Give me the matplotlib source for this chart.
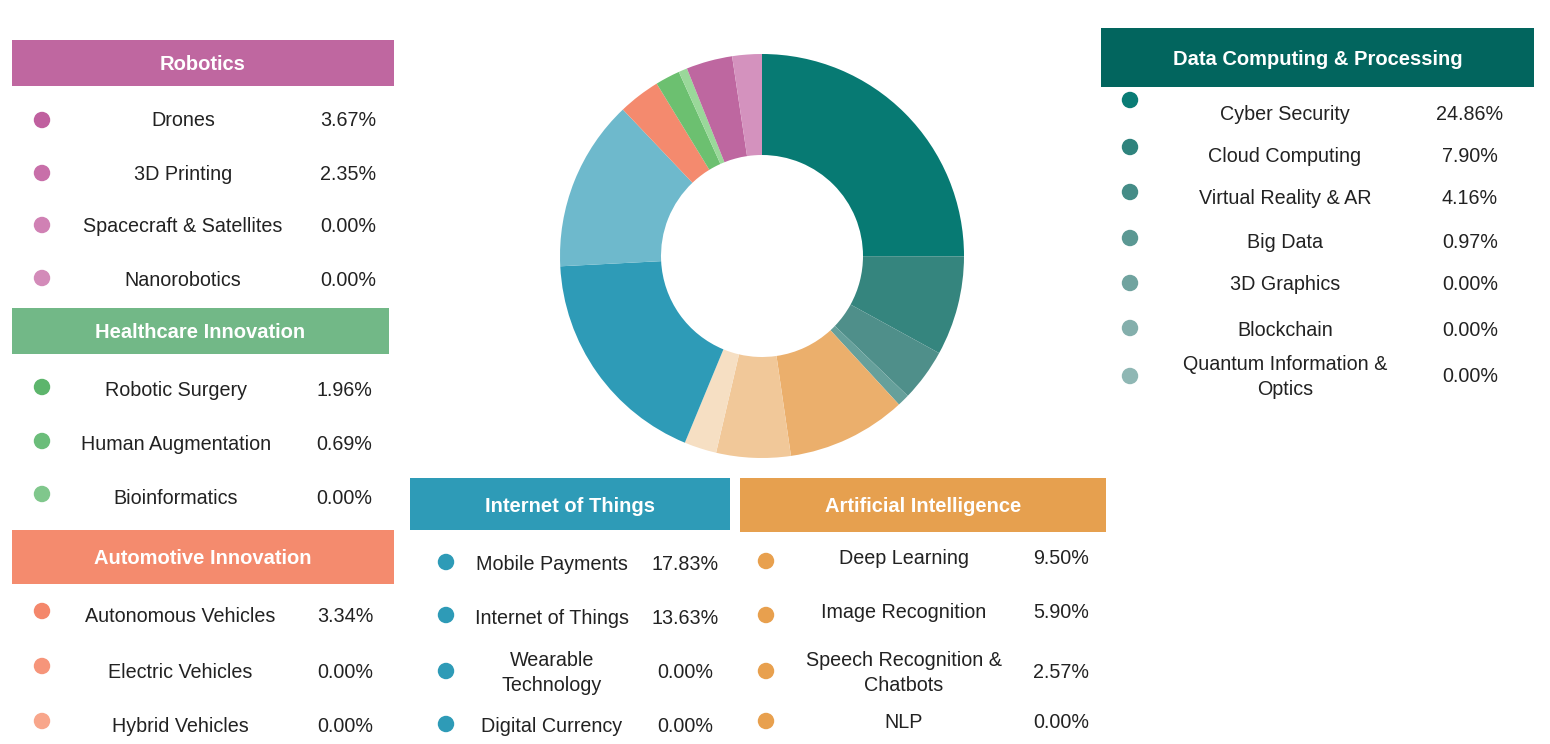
import matplotlib
matplotlib.use("Agg")
import matplotlib.pyplot as plt
from matplotlib.patches import Rectangle

plt.rcParams['font.family'] = ['Liberation Sans', 'DejaVu Sans']

# values per group (percent of total)
data_labels = ['Cyber Security', 'Cloud Computing', 'Virtual Reality & AR', 'Big Data',
               '3D Graphics', 'Blockchain', 'Quantum Information &\nOptics']
data_values = [24.86, 7.90, 4.16, 0.97, 0.00, 0.00, 0.00]
ai_labels = ['Deep Learning', 'Image Recognition', 'Speech Recognition &\nChatbots', 'NLP']
ai_values = [9.50, 5.90, 2.57, 0.00]
iot_labels = ['Mobile Payments', 'Internet of Things', 'Wearable\nTechnology', 'Digital Currency']
iot_values = [17.83, 13.63, 0.00, 0.00]
auto_labels = ['Autonomous Vehicles', 'Electric Vehicles', 'Hybrid Vehicles']
auto_values = [3.34, 0.00, 0.00]
health_labels = ['Robotic Surgery', 'Human Augmentation', 'Bioinformatics']
health_values = [1.96, 0.69, 0.00]
robot_labels = ['Drones', '3D Printing', 'Spacecraft & Satellites', 'Nanorobotics']
robot_values = [3.67, 2.35, 0.00, 0.00]

# slice colours (donut) and dot colours (legend)
data_slice = ['#077a73', '#35857e', '#4f8f8a', '#66a09b', '#7aaca8', '#8ab4b0', '#93bab6']
ai_slice = ['#ebaf6c', '#f1c899', '#f6dfc3', '#f8e8d5']
iot_slice = ['#2e9bb7', '#6eb9cc', '#8ec8d7', '#a8d5e1']
auto_slice = ['#f48a6e', '#f6987e', '#f8a88f']
health_slice = ['#6cc070', '#9ad89a', '#b0e0b0']
robot_slice = ['#be67a0', '#d492be', '#d9a0c6', '#ddaacb']

data_dots = ['#0a7c75', '#2f837d', '#458c87', '#5b9893', '#70a39f', '#84afac', '#8fb7b4']
ai_dots = ['#e8a04e'] * 4
iot_dots = ['#2e9bb7'] * 4
auto_dots = ['#f4876b', '#f6957a', '#f8a68b']
health_dots = ['#5db56c', '#6bbd7a', '#80c78c']
robot_dots = ['#c0609f', '#c86fa9', '#d081b4', '#d38bb9']

fig = plt.figure(figsize=(15.5, 7.44), dpi=100)

# donut, drawn clockwise from 12 o'clock
vals, cols = [], []
for v, c in [(data_values, data_slice), (ai_values, ai_slice), (iot_values, iot_slice),
             (auto_values, auto_slice), (health_values, health_slice), (robot_values, robot_slice)]:
    for vi, ci in zip(v, c):
        if vi > 0:
            vals.append(vi)
            cols.append(ci)

W, H = 1550, 744
cx, cy, r = 762, 256, 202
pax = fig.add_axes([(cx - r) / W, 1 - (cy + r) / H, 2 * r / W, 2 * r / H])
pax.pie(vals, colors=cols, startangle=90, counterclock=False, radius=1,
        wedgeprops=dict(width=0.5, linewidth=0))
pax.set_xlim(-1, 1)
pax.set_ylim(-1, 1)
pax.set_aspect('equal')

# legend panels in pixel coordinates
ax = fig.add_axes([0, 0, 1, 1], zorder=2)
ax.set_xlim(0, W)
ax.set_ylim(H, 0)
ax.axis('off')

panels = [
    ('Robotics', robot_labels, robot_values, robot_dots, '#bf67a0',
     (12, 40, 394, 86), [118, 172, 224, 278], [120, 173, 225, 278], 42, 183, 348),
    ('Healthcare Innovation', health_labels, health_values, health_dots, '#72b887',
     (12, 308, 389, 354), [389, 443, 496], [387, 441, 494], 42, 176, 344),
    ('Automotive Innovation', auto_labels, auto_values, auto_dots, '#f48b6e',
     (12, 530, 394, 584), [614, 670, 724], [611, 666, 721], 42, 180, 345),
    ('Internet of Things', iot_labels, iot_values, iot_dots, '#2e9bb7',
     (410, 478, 730, 530), [562, 616, 671, 724], [562, 615, 671, 724], 446, 552, 685),
    ('Artificial Intelligence', ai_labels, ai_values, ai_dots, '#e6a04f',
     (740, 478, 1106, 532), [557, 611, 671, 721], [561, 615, 671, 721], 766, 904, 1061),
    ('Data Computing & Processing', data_labels, data_values, data_dots, '#02655e',
     (1101, 28, 1534, 87), [112, 154, 197, 240, 283, 328, 375],
     [100, 147, 192, 238, 283, 328, 376], 1130, 1285, 1470),
]

for title, labels, values, dots, hcol, box, ty, dy, dot_x, lab_x, val_x in panels:
    x0, y0, x1, y1 = box
    ax.add_patch(Rectangle((x0, y0), x1 - x0, y1 - y0, facecolor=hcol, edgecolor='none'))
    ax.text((x0 + x1) / 2, (y0 + y1) / 2 + 2, title, color='white', fontsize=14.5,
            fontweight='bold', ha='center', va='center')
    ax.scatter([dot_x] * len(dy), dy, s=140, c=dots, marker='o', linewidths=0)
    for lab, v, y in zip(labels, values, ty):
        ax.text(lab_x, y + 2, lab, fontsize=14.2, color='#222222', ha='center', va='center',
                linespacing=1.45)
        ax.text(val_x, y + 2, f'{v:.2f}%', fontsize=14.2, color='#222222', ha='center',
                va='center')

fig.savefig('out.png', dpi=100)
